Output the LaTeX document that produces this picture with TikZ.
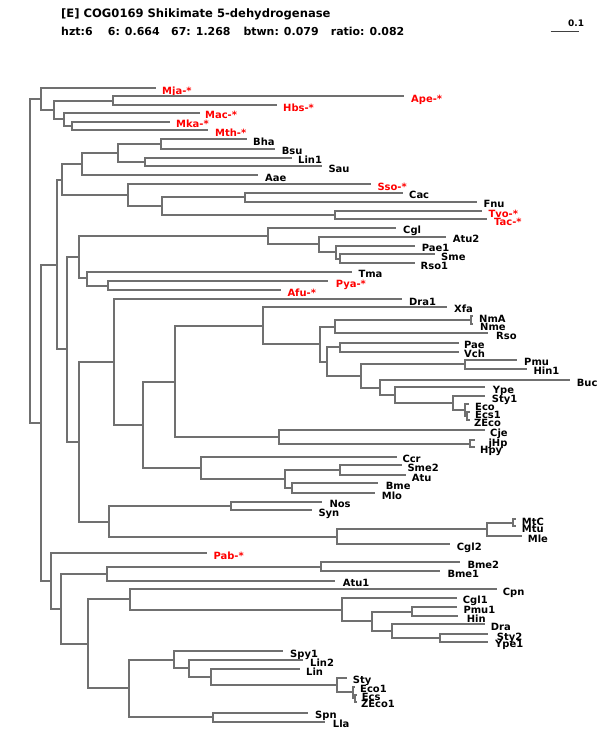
\documentclass[tikz,border=0pt]{standalone}
\usepackage{fontspec}
\setmainfont{DejaVu Sans}
\usetikzlibrary{calc}
\definecolor{branch}{RGB}{112,112,112}
\definecolor{redlab}{RGB}{255,0,0}
\newcommand{\nd}[3]{\coordinate (#1) at ({round(#2)},{round(#3)});}
\newcommand{\leaf}[6]{%
  \nd{#1}{#2}{#3}
  \node[lab,#6] (L#1) at (#4,#3+6) {#5};}
\tikzset{
  lab/.style={font=\bfseries\fontsize{10}{12}\selectfont, inner sep=0pt, anchor=base west, text=black},
  rlab/.style={text=redlab},
  hdr/.style={font=\bfseries\fontsize{11}{13}\selectfont, inner sep=0pt, anchor=base west},
  br/.style={draw=branch, line width=2bp}
}
\begin{document}
\begin{tikzpicture}[x=1bp,y=-1bp]
\useasboundingbox (0,0) rectangle (600,750);
% header
\node[hdr,font=\bfseries\fontsize{11.6}{13}\selectfont] (title) at (61,17.5) {[E] COG0169 Shikimate 5-dehydrogenase};
\node[hdr] (s1) at (61,35.5) {hzt:6};
\node[hdr] (s2) at (107.7,35.5) {6: 0.664};
\node[hdr] (s3) at (171,35.5) {67: 1.268};
\node[hdr] (s4) at (243.3,35.5) {btwn: 0.079};
\node[hdr] (s5) at (330.7,35.5) {ratio: 0.082};
% scale bar
\coordinate (sb1) at (550.7,31.5);
\coordinate (sb2) at (579.3,31.5);
\draw[black!75, line width=1.2bp] (sb1) -- (sb2);
\node[hdr,font=\bfseries\fontsize{9}{11}\selectfont] (sbl) at (568,26.5) {0.1};
% internal nodes
\nd{R}{30}{260.9}
\nd{A}{40.7}{99}
\nd{B}{54}{110}
\nd{C}{113.3}{100.7}
\nd{D}{64}{119.3}
\nd{E}{72}{125.8}
\nd{F}{40.7}{422.7}
\nd{G}{56.7}{264.5}
\nd{H}{61.7}{179.5}
\nd{J}{82}{164.2}
\nd{L}{117.7}{152.9}
\nd{M}{161}{144}
\nd{N}{145}{161.8}
\nd{K}{127.7}{194.75}
\nd{O}{162.3}{205.5}
\nd{Q}{245}{197.2}
\nd{T}{335}{215}
\nd{I}{66.7}{349.4}
\nd{U}{78.7}{257}
\nd{W}{267.7}{236}
\nd{Y}{319}{244.3}
\nd{Z}{335.7}{252.2}
\nd{AA}{340}{258.8}
\nd{X}{86.7}{278.3}
\nd{AB}{107.7}{285.5}
\nd{V}{78.7}{441.75}
\nd{AC}{114.3}{362}
\nd{AE}{142.7}{424.7}
\nd{AF}{175}{381.5}
\nd{AH}{262.7}{325.5}
\nd{AJ}{320}{344}
\nd{AK}{335}{326.7}
\nd{AM}{471}{320}
\nd{AL}{326.7}{361.5}
\nd{AN}{340}{347.2}
\nd{AO}{361}{376}
\nd{AP}{465}{364}
\nd{AQ}{380}{387.5}
\nd{AR}{395}{395}
\nd{AS}{452.7}{403}
\nd{AT}{465}{410}
\nd{AU}{467}{416}
\nd{AI}{279}{437}
\nd{AV}{470}{443.5}
\nd{AG}{201}{467.9}
\nd{AW}{285}{479.2}
\nd{AX}{340}{470}
\nd{AY}{291.7}{488.3}
\nd{AD}{109}{521.5}
\nd{AZ}{230.7}{505.7}
\nd{BA}{336.7}{536.8}
\nd{BB}{486.7}{529.3}
\nd{BC}{513.3}{522.7}
\nd{P1}{50.7}{580.8}
\nd{BD}{60.7}{608.6}
\nd{BE}{106.7}{573.7}
\nd{BG}{320.7}{566.7}
\nd{BF}{87.7}{643.8}
\nd{BH}{130}{599.3}
\nd{BJ}{341.7}{609.5}
\nd{BK}{371.7}{621.2}
\nd{BL}{411.7}{611.7}
\nd{BM}{391.7}{630.8}
\nd{BN}{440}{637.8}
\nd{BI}{129}{688.4}
\nd{BO}{174}{659.7}
\nd{BQ}{189.3}{668.3}
\nd{BR}{211}{676.7}
\nd{BS}{336.7}{684.7}
\nd{BT}{352.7}{692}
\nd{BU}{354.7}{698}
\nd{BP}{212.7}{717.2}
% leaves
\leaf{Mja}{156}{88}{162}{Mja-*}{rlab}
\leaf{Ape}{404}{96.3}{411}{Ape-*}{rlab}
\leaf{Hbs}{277}{105}{283}{Hbs-*}{rlab}
\leaf{Mac}{200}{112.7}{205}{Mac-*}{rlab}
\leaf{Mka}{170}{121.7}{176}{Mka-*}{rlab}
\leaf{Mth}{208}{130}{215}{Mth-*}{rlab}
\leaf{Bha}{246.7}{139.3}{253}{Bha}{}
\leaf{Bsu}{275}{148.7}{281.7}{Bsu}{}
\leaf{Lin1}{291.7}{157.7}{298}{Lin1}{}
\leaf{Sau}{322}{166}{328.3}{Sau}{}
\leaf{Aae}{258}{175}{265}{Aae}{}
\leaf{Sso}{371}{184}{377.3}{Sso-*}{rlab}
\leaf{Cac}{402.7}{192.7}{409}{Cac}{}
\leaf{Fnu}{476.7}{201.7}{483.3}{Fnu}{}
\leaf{Tvo}{481.7}{211}{488.3}{Tvo-*}{rlab}
\leaf{Tac}{486.7}{219}{494}{Tac-*}{rlab}
\leaf{Cgl}{396}{227.7}{403}{Cgl}{}
\leaf{Atu2}{445.7}{236.7}{452.7}{Atu2}{}
\leaf{Pae1}{415}{245.7}{421.7}{Pae1}{}
\leaf{Sme}{435}{254.3}{441}{Sme}{}
\leaf{Rso1}{415}{263.3}{420.5}{Rso1}{}
\leaf{Tma}{351.7}{271.7}{358.3}{Tma}{}
\leaf{Pya}{328.3}{281}{335.7}{Pya-*}{rlab}
\leaf{Afu}{281}{290}{287.3}{Afu-*}{rlab}
\leaf{Dra1}{401.7}{299}{409}{Dra1}{}
\leaf{Xfa}{446.7}{306.7}{454}{Xfa}{}
\leaf{NmA}{473}{316}{479}{NmA}{}
\leaf{Nme}{473}{324}{480}{Nme}{}
\leaf{Rso}{488.3}{333.3}{496}{Rso}{}
\leaf{Pae}{459}{342.7}{464}{Pae}{}
\leaf{Vch}{459}{351.7}{464}{Vch}{}
\leaf{Pmu}{517}{359.5}{524}{Pmu}{}
\leaf{Hin1}{527}{368.5}{533.3}{Hin1}{}
\leaf{Buc}{570}{380}{576.7}{Buc}{}
\leaf{Ype}{485}{387.3}{492.7}{Ype}{}
\leaf{Sty1}{485}{396}{491.7}{Sty1}{}
\leaf{Eco}{469}{404}{475}{Eco}{}
\leaf{Ecs1}{470}{412}{475}{Ecs1}{}
\leaf{ZEco}{470}{420}{474}{ZEco}{}
\leaf{Cje}{485}{430}{490}{Cje}{}
\leaf{jHp}{475}{440}{488.3}{jHp}{}
\leaf{Hpy}{475}{447}{480}{Hpy}{}
\leaf{Ccr}{396.7}{456.7}{402.3}{Ccr}{}
\leaf{Sme2}{402}{465}{407.3}{Sme2}{}
\leaf{Atu}{406}{475}{411.7}{Atu}{}
\leaf{Bme}{378.3}{483.3}{385.7}{Bme}{}
\leaf{Mlo}{375}{493.3}{381.7}{Mlo}{}
\leaf{Nos}{321.7}{501.5}{329.3}{Nos}{}
\leaf{Syn}{311.7}{510}{318.3}{Syn}{}
\leaf{MtC}{516}{519}{521.7}{MtC}{}
\leaf{Mtu}{516}{526.4}{521.7}{Mtu}{}
\leaf{Mle}{521.7}{536}{527.7}{Mle}{}
\leaf{Cgl2}{450}{544.3}{456.7}{Cgl2}{}
\leaf{Pab}{206.7}{553.3}{213.3}{Pab-*}{rlab}
\leaf{Bme2}{460}{562.3}{467.3}{Bme2}{}
\leaf{Bme1}{440}{571}{447.3}{Bme1}{}
\leaf{Atu1}{335}{580.7}{342.7}{Atu1}{}
\leaf{Cpn}{496.7}{589}{502.7}{Cpn}{}
\leaf{Cgl1}{457}{597.7}{462.7}{Cgl1}{}
\leaf{Pmu1}{456.7}{607.3}{463.3}{Pmu1}{}
\leaf{Hin}{458}{616}{466.7}{Hin}{}
\leaf{Dra}{485}{624.3}{490.7}{Dra}{}
\leaf{Sty2}{488}{634}{496.7}{Sty2}{}
\leaf{Ype1}{488}{641.7}{495}{Ype1}{}
\leaf{Spy1}{283.3}{651}{290}{Spy1}{}
\leaf{Lin2}{303}{660}{310}{Lin2}{}
\leaf{Lin}{300}{669}{306}{Lin}{}
\leaf{Sty}{346.7}{677.7}{352.7}{Sty}{}
\leaf{Eco1}{355}{686.5}{360}{Eco1}{}
\leaf{Ecs}{357}{694.5}{361.7}{Ecs}{}
\leaf{ZEco1}{357}{701.5}{361}{ZEco1}{}
\leaf{Spn}{308.3}{712.7}{315}{Spn}{}
\leaf{Lla}{325}{721.7}{332.7}{Lla}{}
% branches
\foreach \p/\c in {R/A, R/F, A/Mja, A/B, B/C, B/D, C/Ape, C/Hbs, D/Mac, D/E,
  E/Mka, E/Mth, F/G, F/P1, G/H, G/I, H/J, H/K, J/L, J/Aae, L/M, L/N,
  M/Bha, M/Bsu, N/Lin1, N/Sau, K/Sso, K/O, O/Q, O/T, Q/Cac, Q/Fnu,
  T/Tvo, T/Tac, I/U, I/V, U/W, U/X, W/Cgl, W/Y, Y/Atu2, Y/Z, Z/Pae1, Z/AA,
  AA/Sme, AA/Rso1, X/Tma, X/AB, AB/Pya, AB/Afu, V/AC, V/AD, AC/Dra1, AC/AE,
  AE/AF, AE/AG, AF/AH, AF/AI, AH/Xfa, AH/AJ, AJ/AK, AJ/AL, AK/AM, AK/Rso,
  AM/NmA, AM/Nme, AL/AN, AL/AO, AN/Pae, AN/Vch, AO/AP, AO/AQ, AP/Pmu, AP/Hin1,
  AQ/Buc, AQ/AR, AR/Ype, AR/AS, AS/Sty1, AS/AT, AT/Eco, AT/AU, AU/Ecs1, AU/ZEco,
  AI/Cje, AI/AV, AV/jHp, AV/Hpy, AG/Ccr, AG/AW, AW/AX, AW/AY, AX/Sme2, AX/Atu,
  AY/Bme, AY/Mlo, AD/AZ, AD/BA, AZ/Nos, AZ/Syn, BA/BB, BA/Cgl2, BB/BC, BB/Mle,
  BC/MtC, BC/Mtu, P1/Pab, P1/BD, BD/BE, BD/BF, BE/BG, BE/Atu1, BG/Bme2, BG/Bme1,
  BF/BH, BF/BI, BH/Cpn, BH/BJ, BJ/Cgl1, BJ/BK, BK/BL, BK/BM, BL/Pmu1, BL/Hin,
  BM/Dra, BM/BN, BN/Sty2, BN/Ype1, BI/BO, BI/BP, BO/Spy1, BO/BQ, BQ/Lin2, BQ/BR,
  BR/Lin, BR/BS, BS/Sty, BS/BT, BT/Eco1, BT/BU, BU/Ecs, BU/ZEco1, BP/Spn, BP/Lla}
  \draw[br] (\p) |- (\c);
\end{tikzpicture}
\end{document}
